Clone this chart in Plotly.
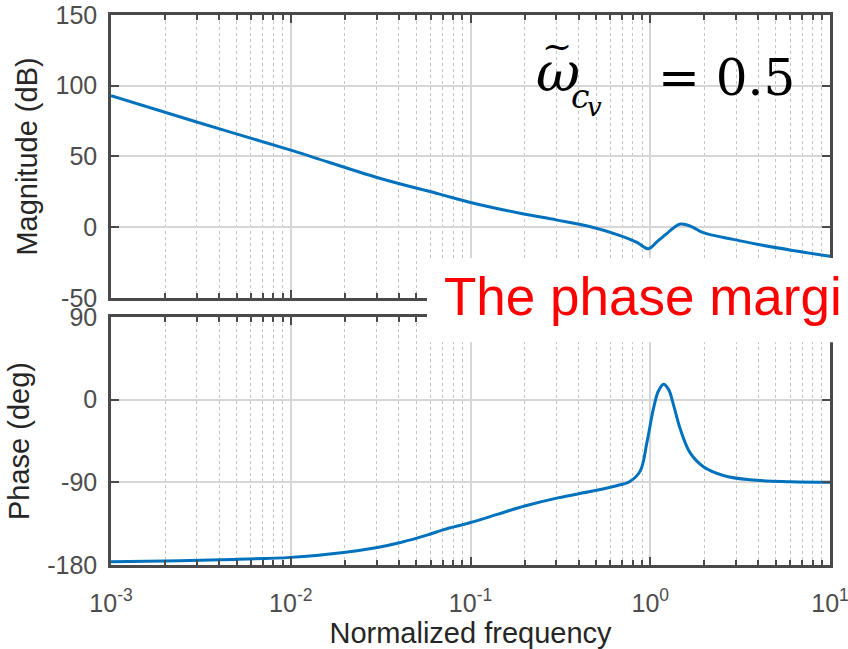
import plotly.graph_objects as go

# ---- data ----
mag_freq = [0.001, 0.00316, 0.01, 0.0312, 0.0673, 0.1, 0.195, 0.3, 0.46, 0.681, 0.843,
            0.978, 1.1, 1.23, 1.35, 1.47, 1.6, 1.74, 1.97, 2.9, 4.0, 6.2, 10.0]
mag_db = [93, 73.5, 54.5, 34.6, 23.4, 17.5, 9.5, 5.2, 0.5, -5.9, -10.7,
          -15.2, -9.8, -4.7, -0.3, 2.3, 1.6, -0.3, -3.8, -8.6, -12.2, -16.4, -20.5]

ph_freq = [0.001, 0.002, 0.0041, 0.01, 0.0197, 0.0303, 0.0408, 0.0572, 0.071, 0.1,
           0.141, 0.2, 0.306, 0.47, 0.65, 0.77, 0.88, 0.958, 1.043, 1.11, 1.186,
           1.264, 1.347, 1.468, 1.668, 1.976, 2.55, 3.59, 6.0, 10.0]
ph_deg = [-176.4, -175.6, -174.2, -171.7, -166.3, -160.9, -155.5, -147.5, -141.5, -133.8,
          -124.9, -115.8, -106.9, -99.7, -93.7, -89.0, -77.5, -46.8, -9.3, 9.4, 16.9,
          11.2, -5.6, -31.8, -58.0, -73.0, -82.5, -87.3, -89.3, -90.0]

x_tickvals = [1e-3, 1e-2, 1e-1, 1e0, 1e1]
x_ticktext = ["10<sup>-3</sup>", "10<sup>-2</sup>", "10<sup>-1</sup>", "10<sup>0</sup>", "10<sup>1</sup>"]
mag_ticks = [-50, 0, 50, 100, 150]
mag_ticktext = ["-50", "0", "50", "100", "150"]
ph_ticks = [-180, -90, 0, 90]
ph_ticktext = ["-180", "-90", "0", "90"]

minor_vals = [m * 10 ** e for e in range(-3, 1) for m in range(2, 10)]

LINE = "#0072BD"
AX = "#4a4a4a"
GRID = "#d6d6d6"
MGRID = "#c4c4c4"
SANS = "Liberation Sans, Arial, sans-serif"
SERIF = "DejaVu Serif, serif"
TICKFONT = dict(family=SANS, size=25, color="#4d4d4d")
TITLEFONT = dict(family=SANS, size=29, color="#262626")

fig = go.Figure()
fig.add_trace(go.Scatter(x=mag_freq, y=mag_db, mode="lines", xaxis="x", yaxis="y",
                         line=dict(color=LINE, width=3, shape="spline", smoothing=1.0),
                         showlegend=False))
fig.add_trace(go.Scatter(x=ph_freq, y=ph_deg, mode="lines", xaxis="x2", yaxis="y2",
                         line=dict(color=LINE, width=3, shape="spline", smoothing=1.0),
                         showlegend=False))

def xax(show_labels, anchor):
    return dict(
        type="log", range=[-3, 1], domain=[0, 1], anchor=anchor, automargin=False,
        tickmode="array", tickvals=x_tickvals, ticktext=x_ticktext,
        showticklabels=show_labels, ticks="inside", ticklen=8, tickwidth=2,
        tickcolor=AX, mirror="ticks", showline=True, linecolor=AX, linewidth=2.5,
        showgrid=True, gridcolor=GRID, gridwidth=1.5, zeroline=False,
        tickfont=TICKFONT, ticklabelstandoff=14, ticklabeloverflow="allow",
        minor=dict(tickmode="array", tickvals=minor_vals, ticks="inside", ticklen=5,
                   tickwidth=1.5, tickcolor=AX, showgrid=True, gridcolor=MGRID,
                   griddash="dot", gridwidth=1),
    )

def yax(rng, tickvals, ticktext, title, domain, anchor):
    return dict(
        range=rng, domain=domain, anchor=anchor, automargin=False, tickmode="array",
        tickvals=tickvals, ticktext=ticktext, ticks="inside", ticklen=8, tickwidth=2,
        tickcolor=AX, mirror="ticks", showline=True, linecolor=AX, linewidth=2.5,
        showgrid=True, gridcolor=GRID, gridwidth=1.5, zeroline=False, tickfont=TICKFONT,
        ticklabelstandoff=6, ticklabeloverflow="allow",
        title=dict(text=title, font=TITLEFONT, standoff=10),
    )

fig.update_layout(
    width=848, height=649,
    margin=dict(l=111, r=18, t=15, b=84),
    paper_bgcolor="white", plot_bgcolor="white",
    xaxis=xax(False, "y"),
    xaxis2=dict(xax(True, "y2"), title=dict(text="Normalized frequency", font=TITLEFONT, standoff=4)),
    yaxis=yax([-50, 150], mag_ticks, mag_ticktext, "Magnitude (dB)", [0.4855, 1.0], "x"),
    yaxis2=yax([-180, 90], ph_ticks, ph_ticktext, "Phase (deg)", [0.0, 0.4509], "x2"),
)

# white box behind the red text
fig.add_shape(type="rect", xref="paper", yref="paper", x0=0.4395, x1=1.05, y0=0.405, y1=0.558,
              fillcolor="white", line=dict(width=0), layer="above")

fig.add_annotation(xref="paper", yref="paper", x=0.461, y=0.4873, xanchor="left", yanchor="middle",
                   text="The phase margi", showarrow=False,
                   font=dict(family=SANS, size=53, color="#ff0000"))

# omega-tilde with subscript c_v = 0.5
def note(text, x, y, size, xanchor="center"):
    fig.add_annotation(xref="paper", yref="paper", x=x, y=y, xanchor=xanchor, yanchor="middle",
                       text=text, showarrow=False,
                       font=dict(family=SERIF, size=size, color="#000000"))

note("<i>ω</i>", 0.6217, 0.8955, 54)
note("~", 0.6210, 0.944, 36)
note("<i>c</i>", 0.6523, 0.8513, 33)
note("<i>v</i>", 0.6718, 0.8335, 26)
note("= 0.5", 0.954, 0.8855, 50, xanchor="right")

fig.write_html("out.html")
